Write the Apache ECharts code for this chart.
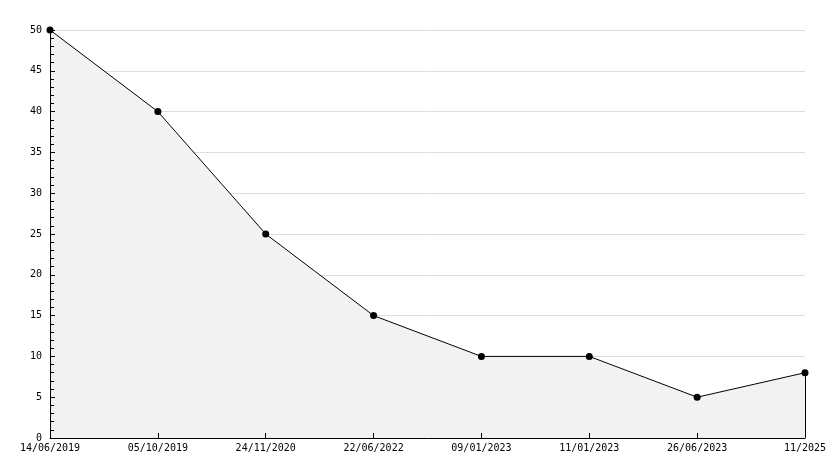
<!DOCTYPE html>
<html>
<head>
<meta charset="utf-8">
<script src="https://cdn.jsdelivr.net/npm/echarts@6/dist/echarts.min.js"></script>
<style>html,body{margin:0;padding:0;background:#fff;}#c{width:834px;height:468px;}</style>
</head>
<body>
<div id="c"></div>
<script>
const categories = ['14/06/2019','05/10/2019','24/11/2020','22/06/2022','09/01/2023','11/01/2023','26/06/2023','11/2025'];
const values = [50, 40, 25, 15, 10, 10, 5, 8];
const yTicks = [0, 5, 10, 15, 20, 25, 30, 35, 40, 45, 50];

const chart = echarts.init(document.getElementById('c'));
const font = '"DejaVu Sans Mono", monospace';
const last = categories.length - 1;
const yMin = yTicks[0], yMax = yTicks[yTicks.length - 1];
chart.setOption({
  animation: false,
  backgroundColor: '#fff',
  grid: {left: 50, right: 29, top: 30, bottom: 30, containLabel: false},
  xAxis: {
    type: 'category',
    z: 10,
    data: categories,
    boundaryGap: false,
    axisLine: {lineStyle: {color: '#000', width: 1}},
    axisTick: {show: true, inside: true, length: 5, lineStyle: {color: '#000'}},
    axisLabel: {color: '#000', fontFamily: font, fontSize: 10, margin: 5, interval: 0},
    splitLine: {show: false}
  },
  yAxis: [{
    type: 'value',
    z: 10,
    min: yMin,
    max: yMax,
    interval: 5,
    axisLine: {show: true, lineStyle: {color: '#000', width: 1}},
    axisTick: {show: true, inside: true, length: 5, lineStyle: {color: '#000'}},
    minorTick: {show: true, splitNumber: 5, length: 4, lineStyle: {color: '#000'}},
    axisLabel: {color: '#000', fontFamily: font, fontSize: 10, margin: 8},
    splitLine: {show: false}
  }, {
    type: 'value',
    z: 0,
    position: 'left',
    min: yMin,
    max: yMax,
    interval: 5,
    axisLine: {show: false},
    axisTick: {show: false},
    axisLabel: {show: false},
    splitLine: {show: true, lineStyle: {color: '#dddddd', width: 1}}
  }],
  series: [{
    type: 'line',
    z: 2,
    data: values,
    symbol: 'circle',
    symbolSize: 7,
    itemStyle: {color: '#000'},
    lineStyle: {color: '#000', width: 1},
    areaStyle: {color: '#f2f2f2', opacity: 1},
    markLine: {
      silent: true,
      symbol: 'none',
      label: {show: false},
      lineStyle: {color: '#000', width: 1, type: 'solid'},
      data: [[{coord: [last, values[last]]}, {coord: [last, 0]}]]
    }
  }]
});
</script>
</body>
</html>
